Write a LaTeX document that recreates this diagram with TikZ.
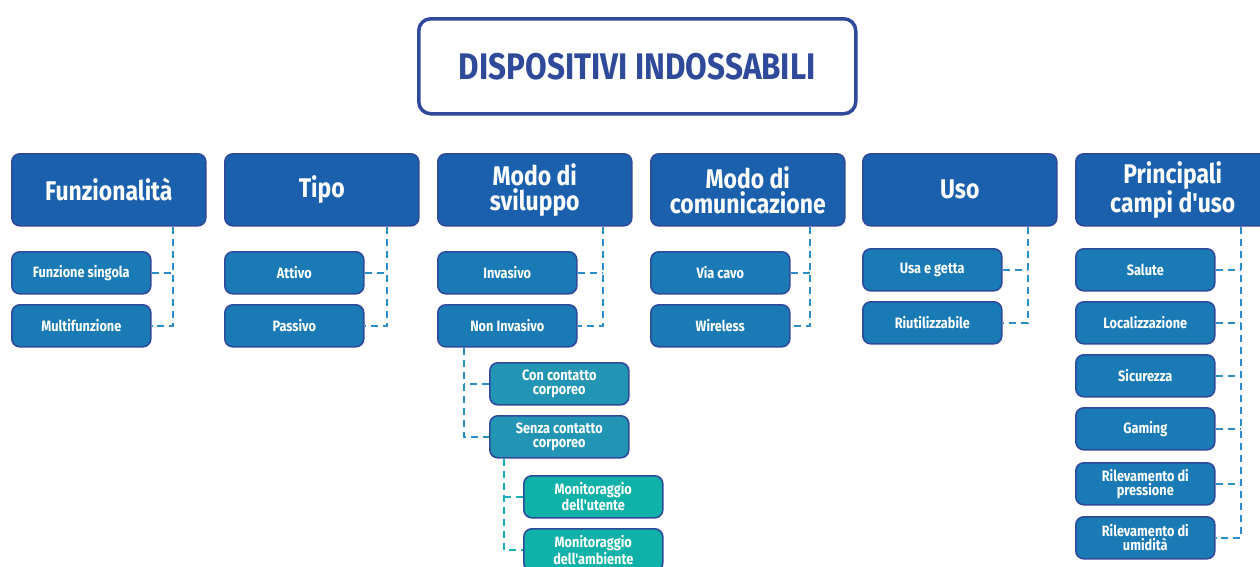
\documentclass[tikz,border=0pt]{standalone}
\usepackage{fontspec}
\setmainfont{Fira Sans}[FakeStretch=0.85, Ligatures=TeXOff]
\definecolor{navy}{HTML}{2F4A9B}
\definecolor{headblue}{HTML}{1A60AC}
\definecolor{childblue}{HTML}{1A7AB6}
\definecolor{lvlthree}{HTML}{2195B3}
\definecolor{lvlfour}{HTML}{10B1A8}
\definecolor{connblue}{HTML}{2A8DC8}
\definecolor{connteal}{HTML}{1AAFB5}
\tikzset{
  box/.style={draw=navy, line width=1.6pt, rounded corners=8pt, text=white, align=center, inner sep=0pt, anchor=north west},
  head/.style={box, fill=headblue, minimum width=194pt, minimum height=72pt, font=\bfseries\fontsize{27}{25}\selectfont},
  child/.style={box, fill=childblue, minimum width=139pt, minimum height=42pt, font=\bfseries\fontsize{15}{14}\selectfont},
  third/.style={child, fill=lvlthree},
  fourth/.style={child, fill=lvlfour},
  conn/.style={draw=connblue, line width=1.8pt, dash pattern=on 7pt off 5pt},
  tconn/.style={conn, draw=connteal}
}
\begin{document}
\begin{tikzpicture}[x=1pt,y=-1pt]
\useasboundingbox (0,0) rectangle (1260,566);
\clip (0,0) rectangle (1260,566);
% title
\node[box, draw=navy, line width=3.5pt, rounded corners=12pt, fill=white, text=navy, minimum width=437pt, minimum height=95pt, font=\bfseries\fontsize{37}{37}\selectfont] (title) at (417,17) {DISPOSITIVI INDOSSABILI};
% headers
\node[head] (h1) at (11,153) {Funzionalità};
\node[head] (h2) at (224,153) {Tipo};
\node[head] (h3) at (437,153) {Modo di\\sviluppo};
\node[head] (h4) at (650,153) {Modo di\\comunicazione};
\node[head] (h5) at (862,153) {Uso};
\node[head] (h6) at (1075,153) {Principali\\campi d'uso};
% children
\node[child] (a1) at (11,251) {Funzione singola};
\node[child] (a2) at (11,304) {Multifunzione};
\node[child] (b1) at (224,251) {Attivo};
\node[child] (b2) at (224,304) {Passivo};
\node[child] (c1) at (437,251) {Invasivo};
\node[child] (c2) at (437,304) {Non Invasivo};
\node[child] (d1) at (650,251) {Via cavo};
\node[child] (d2) at (650,304) {Wireless};
\node[child] (e1) at (862,248) {Usa e getta};
\node[child] (e2) at (862,301) {Riutilizzabile};
\node[child] (f1) at (1075,248) {Salute};
\node[child] (f2) at (1075,301) {Localizzazione};
\node[child] (f3) at (1075,354) {Sicurezza};
\node[child] (f4) at (1075,407) {Gaming};
\node[child] (f5) at (1075,462) {Rilevamento di\\pressione};
\node[child] (f6) at (1075,516) {Rilevamento di\\umidità};
% third level
\node[third] (g1) at (489,362) {Con contatto\\corporeo};
\node[third] (g2) at (489,415) {Senza contatto\\corporeo};
% fourth level
\node[fourth] (k1) at (523,475) {Monitoraggio\\dell'utente};
\node[fourth] (k2) at (523,528) {Monitoraggio\\dell'ambiente};
% spine coordinates
\coordinate (v1) at (173,0);
\coordinate (v2) at (387,0);
\coordinate (v3) at (603,0);
\coordinate (v4) at (810,0);
\coordinate (v5) at (1028,0);
\coordinate (v6) at (1241,0);
\coordinate (v7) at (464,0);
\coordinate (v8) at (504,0);
% connectors
\draw[conn] (h1.south -| v1) |- (a2.east);
\draw[conn] (a1.east) -- (a1.east -| v1);
\draw[conn] (h2.south -| v2) |- (b2.east);
\draw[conn] (b1.east) -- (b1.east -| v2);
\draw[conn] (h3.south -| v3) |- (c2.east);
\draw[conn] (c1.east) -- (c1.east -| v3);
\draw[conn] (h4.south -| v4) |- (d2.east);
\draw[conn] (d1.east) -- (d1.east -| v4);
\draw[conn] (h5.south -| v5) |- (e2.east);
\draw[conn] (e1.east) -- (e1.east -| v5);
\draw[conn] (h6.south -| v6) |- (f6.east);
\foreach \n in {f1,f2,f3,f4,f5} \draw[conn] (\n.east) -- (\n.east -| v6);
\draw[conn] (c2.south -| v7) |- (g2.west);
\draw[conn] (g1.west) -- (g1.west -| v7);
\draw[tconn] (g2.south -| v8) |- (k2.west);
\draw[tconn] (k1.west) -- (k1.west -| v8);
\end{tikzpicture}
\end{document}
